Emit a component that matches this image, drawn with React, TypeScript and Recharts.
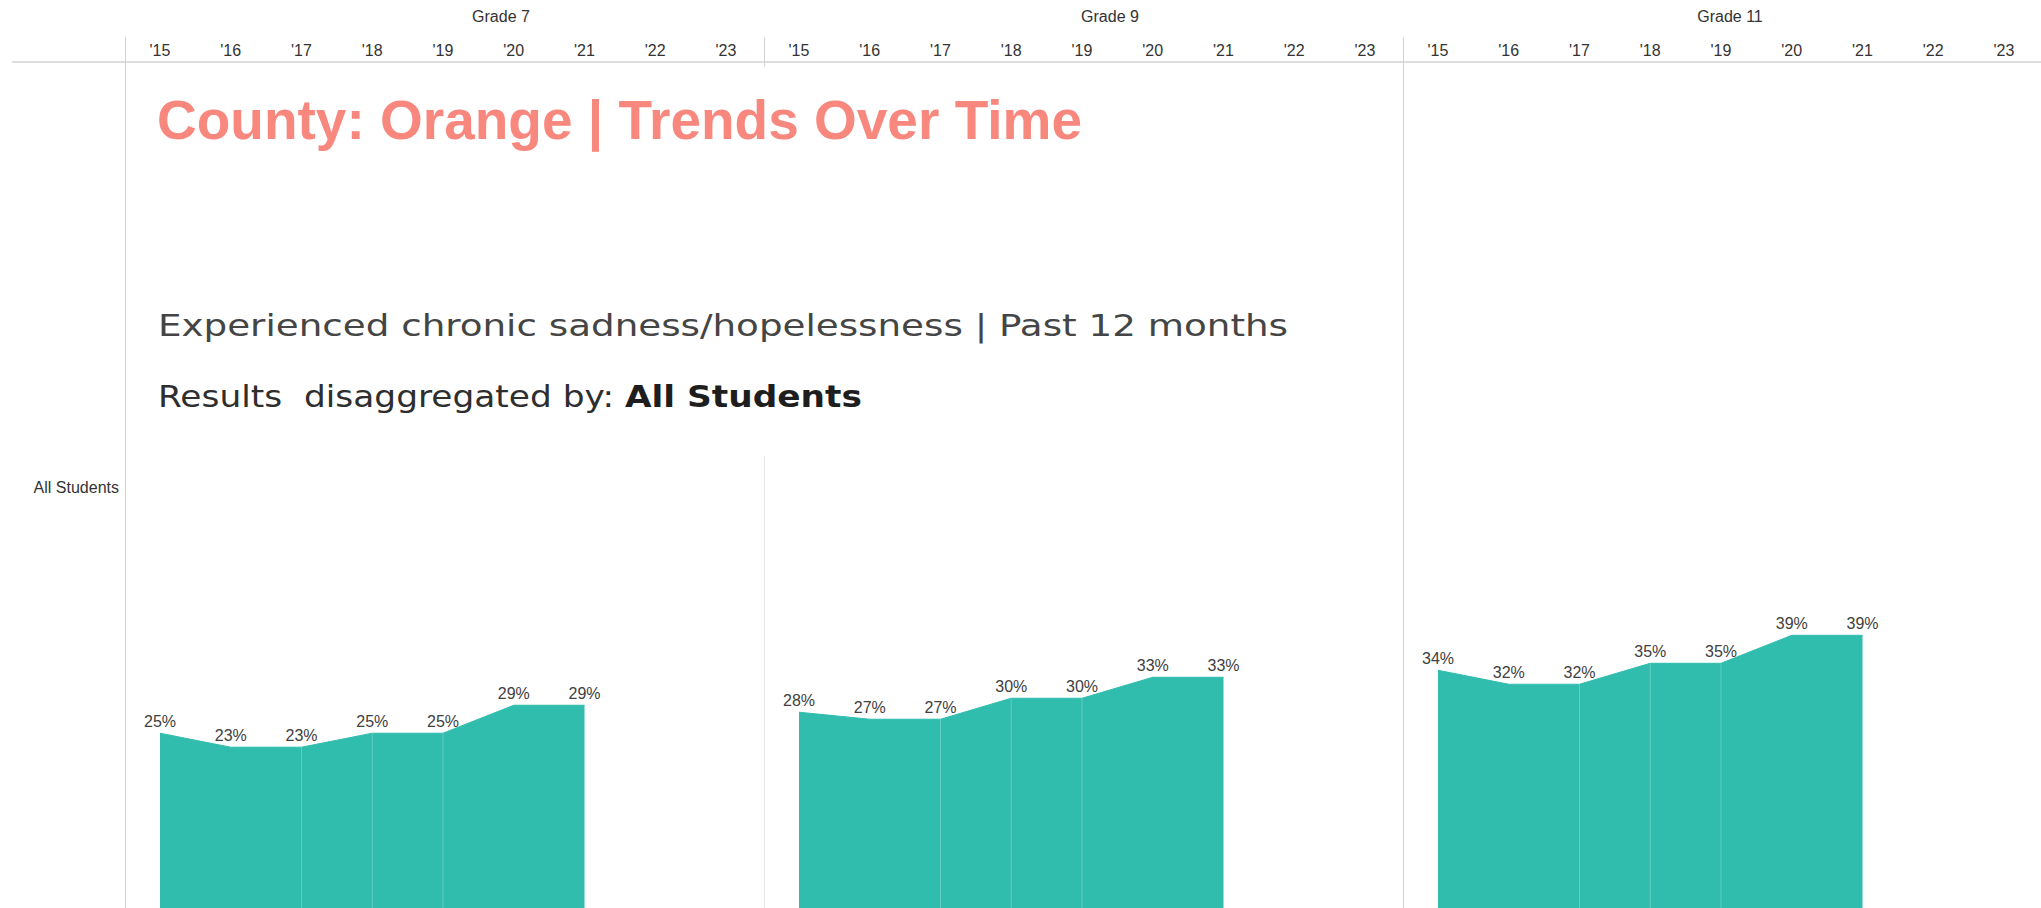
import { Area, AreaChart, LabelList, ReferenceLine, XAxis, YAxis } from "recharts";

const years = ["'15", "'16", "'17", "'18", "'19", "'20", "'21", "'22", "'23"];
const grades = ["Grade 7", "Grade 9", "Grade 11"];

const grade7Values = [25, 23, 23, 25, 25, 29, 29, null, null];
const grade9Values = [28, 27, 27, 30, 30, 33, 33, null, null];
const grade11Values = [34, 32, 32, 35, 35, 39, 39, null, null];

// years where the area shows a light seam
const seamYears = ["'17", "'18", "'19"];

const gradeValues = [grade7Values, grade9Values, grade11Values];
const gradeLabelX = [501, 1110, 1730];

const PANEL_LEFT = 125;
const PANEL_WIDTH = 639;
const TEAL = "#30bdad";

type Point = { year: string; value: number | null };

function buildRows(values: (number | null)[]): Point[] {
  return years.map((year, i) => ({ year, value: values[i] }));
}

function GradePanel({ values }: { values: (number | null)[] }) {
  const rows = buildRows(values);
  return (
    <AreaChart width={PANEL_WIDTH} height={908} data={rows} margin={{ top: 0, right: 38, left: 35, bottom: 0 }}>
      <XAxis
        dataKey="year"
        orientation="top"
        height={62}
        interval={0}
        axisLine={false}
        tickLine={false}
        tickSize={4}
        tickMargin={2}
        tick={{ fontSize: 16, fill: "#333333" }}
      />
      <YAxis hide domain={[0, 121]} />
      <Area
        type="linear"
        dataKey="value"
        stroke={TEAL}
        strokeWidth={1}
        fill={TEAL}
        fillOpacity={1}
        isAnimationActive={false}
      >
        <LabelList
          dataKey="value"
          position="top"
          offset={6}
          fill="#404040"
          fontSize={16}
          formatter={(v: any) => (v == null ? "" : `${v}%`)}
        />
      </Area>
      {seamYears.map((year) => {
        const row = rows.find((r) => r.year === year);
        return (
          <ReferenceLine
            key={year}
            segment={[
              { x: year, y: 0 },
              { x: year, y: row?.value ?? 0 },
            ]}
            stroke="#5fcdc0"
            strokeWidth={1}
          />
        );
      })}
    </AreaChart>
  );
}

export default function App() {
  return (
    <div
      style={{
        position: "absolute",
        left: 0,
        top: 0,
        width: 2041,
        height: 908,
        overflow: "hidden",
        background: "#ffffff",
        fontFamily: '"Liberation Sans", Arial, sans-serif',
      }}
    >
      {gradeValues.map((values, i) => (
        <div key={grades[i]} style={{ position: "absolute", left: PANEL_LEFT + i * PANEL_WIDTH, top: 0 }}>
          <GradePanel values={values} />
        </div>
      ))}

      <svg width={2041} height={908} style={{ position: "absolute", left: 0, top: 0, pointerEvents: "none" }}>
        {/* header rule and pane dividers */}
        <rect x={12} y={61} width={2029} height={2} fill="#dedede" />
        <rect x={125} y={37} width={1} height={871} fill="#d2d2d2" />
        <rect x={764} y={37} width={1} height={30} fill="#d2d2d2" />
        <rect x={764} y={456} width={1} height={452} fill="#e6e6e6" />
        <rect x={1403} y={37} width={1} height={871} fill="#d2d2d2" />

        {grades.map((g, i) => (
          <text key={g} x={gradeLabelX[i]} y={22} textAnchor="middle" fontSize={16} fill="#333333">
            {g}
          </text>
        ))}

        <text x={119} y={493} textAnchor="end" fontSize={16} fill="#333333">
          All Students
        </text>

        <text
          x={157}
          y={139}
          fontSize={55}
          fontWeight="bold"
          fill="#f8877e"
          textLength={925}
          lengthAdjust="spacingAndGlyphs"
        >
          County: Orange | Trends Over Time
        </text>

        <text
          x={158}
          y={336}
          fontSize={30}
          fontFamily='"DejaVu Sans", sans-serif'
          fill="#454545"
          textLength={1130}
          lengthAdjust="spacingAndGlyphs"
        >
          Experienced chronic sadness/hopelessness | Past 12 months
        </text>

        <text
          x={158}
          y={407}
          fontSize={30}
          fontFamily='"DejaVu Sans", sans-serif'
          fill="#2e2e2e"
          textLength={704}
          lengthAdjust="spacingAndGlyphs"
          xmlSpace="preserve"
          style={{ whiteSpace: "pre" }}
        >
          {"Results  disaggregated by: "}
          <tspan fontWeight="bold" fill="#1e1e1e">
            All Students
          </tspan>
        </text>
      </svg>
    </div>
  );
}
